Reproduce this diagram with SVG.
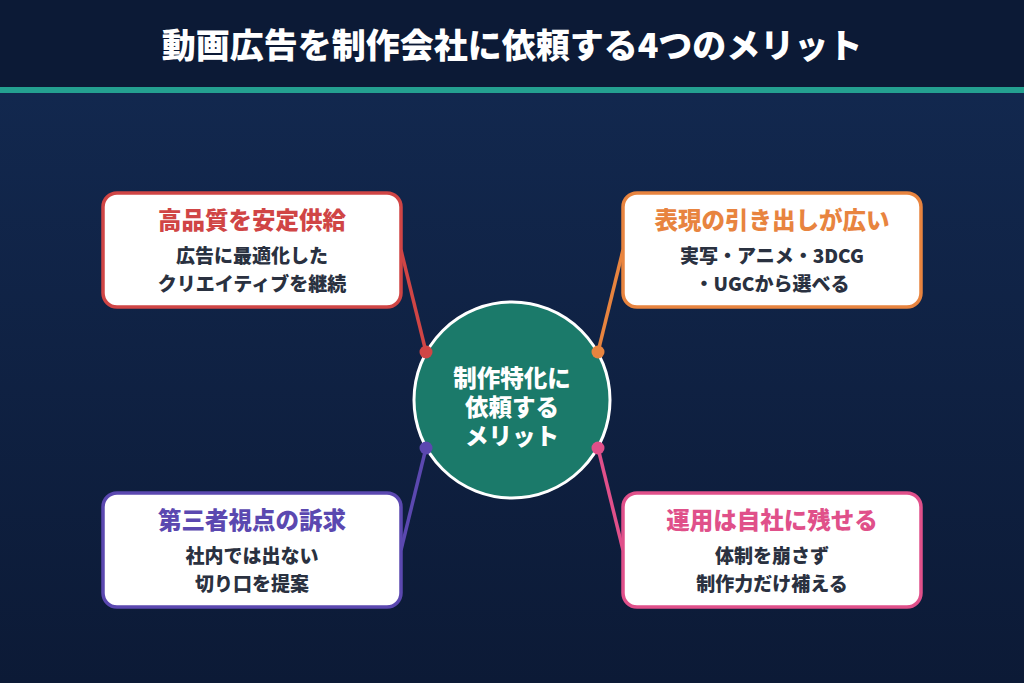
<svg xmlns="http://www.w3.org/2000/svg" width="1024" height="683" viewBox="0 0 1024 683">
<defs>
<linearGradient id="bg" x1="0" y1="0" x2="0" y2="1">
<stop offset="0" stop-color="#132a52"/>
<stop offset="1" stop-color="#0c1a36"/>
</linearGradient>
<style>
text{font-family:"Noto Sans CJK JP","Noto Sans",sans-serif;font-weight:900;text-anchor:middle}
.box{fill:#ffffff;stroke-width:3.5}
.ttl{font-size:23.5px}
.body{font-size:19px;fill:#2a3140}
.ctr{font-size:23.5px;fill:#ffffff}
.conn{stroke-width:3.5;fill:none}
</style>
</defs>
<rect x="0" y="0" width="1024" height="683" fill="url(#bg)"/>
<rect x="0" y="0" width="1024" height="88" fill="#0c1a36"/>
<rect x="0" y="87" width="1024" height="6" fill="#24a090"/>
<text x="512" y="58" font-size="34" fill="#ffffff">動画広告を制作会社に依頼する4つのメリット</text>
<g id="center">
<circle cx="512" cy="400" r="98" fill="#1b7a6a" stroke="#ffffff" stroke-width="3"/>
<text class="ctr"><tspan x="512" y="387">制作特化に</tspan><tspan x="512" y="416">依頼する</tspan><tspan x="512" y="445">メリット</tspan></text>
</g>
<g id="connectors">
<line class="conn" x1="401" y1="250" x2="426" y2="352" stroke="#d04545"/>
<circle cx="426" cy="352" r="6.5" fill="#d04545"/>
<line class="conn" x1="623" y1="250" x2="598" y2="352" stroke="#e8843f"/>
<circle cx="598" cy="352" r="6.5" fill="#e8843f"/>
<line class="conn" x1="426" y1="448" x2="401" y2="550" stroke="#5b48b0"/>
<circle cx="426" cy="448" r="6.5" fill="#5b48b0"/>
<line class="conn" x1="598" y1="448" x2="623" y2="550" stroke="#e0508a"/>
<circle cx="598" cy="448" r="6.5" fill="#e0508a"/>
</g>
<g id="node-tl">
<rect class="box" x="103" y="193" width="298" height="114" rx="14" stroke="#d04545"/>
<text class="ttl" x="252" y="229" fill="#d04545">高品質を安定供給</text>
<text class="body" x="252" y="263">広告に最適化した</text>
<text class="body" x="252" y="291">クリエイティブを継続</text>
</g>
<g id="node-tr">
<rect class="box" x="623" y="193" width="298" height="114" rx="14" stroke="#e8843f"/>
<text class="ttl" x="772" y="229" fill="#e8843f">表現の引き出しが広い</text>
<text class="body" x="772" y="263">実写・アニメ・3DCG</text>
<text class="body" x="772" y="291">・UGCから選べる</text>
</g>
<g id="node-bl">
<rect class="box" x="103" y="493" width="298" height="114" rx="14" stroke="#5b48b0"/>
<text class="ttl" x="252" y="529" fill="#5b48b0">第三者視点の訴求</text>
<text class="body" x="252" y="563">社内では出ない</text>
<text class="body" x="252" y="591">切り口を提案</text>
</g>
<g id="node-br">
<rect class="box" x="623" y="493" width="298" height="114" rx="14" stroke="#e0508a"/>
<text class="ttl" x="772" y="529" fill="#e0508a">運用は自社に残せる</text>
<text class="body" x="772" y="563">体制を崩さず</text>
<text class="body" x="772" y="591">制作力だけ補える</text>
</g>
</svg>
